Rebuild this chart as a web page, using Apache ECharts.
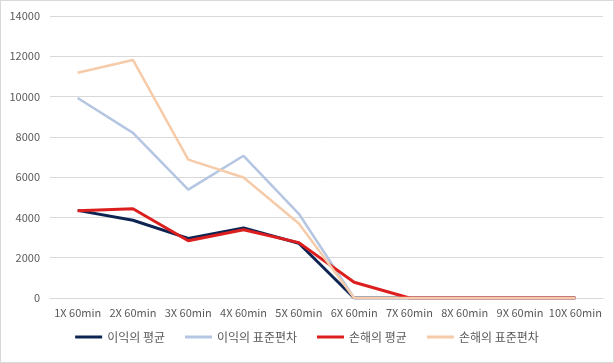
<!DOCTYPE html>
<html><head><meta charset="utf-8">
<script src="https://cdn.jsdelivr.net/npm/echarts@6/dist/echarts.min.js"></script>
<style>html,body{margin:0;padding:0;background:#fff}#c{width:614px;height:363px;box-sizing:border-box;border:1px solid #d9d9d9}</style>
</head><body><div id="c"></div>
<script>
const categories = ['1X 60min','2X 60min','3X 60min','4X 60min','5X 60min','6X 60min','7X 60min','8X 60min','9X 60min','10X 60min'];
const profitMean = [4350, 3860, 2960, 3480, 2720, 0, 0, 0, 0, 0];
const profitStd = [9930, 8200, 5380, 7060, 4180, 0, 0, 0, 0, 0];
const lossMean = [4330, 4430, 2840, 3390, 2750, 780, 0, 0, 0, 0];
const lossStd = [11180, 11820, 6870, 5980, 3700, 0, 0, 0, 0, 0];
const names = ['이익의 평균','이익의 표준편차','손해의 평균','손해의 표준편차'];
const colors = ['#0E2453','#B4C6E2','#DD1E1E','#F6CBAA'];
const widths = [3, 2.5, 3, 2.5];
const all = [profitMean, profitStd, lossMean, lossStd];
const chart = echarts.init(document.getElementById('c'));
const font = '"Noto Sans CJK KR", "Noto Sans", sans-serif';
chart.setOption({
  animation:false,
  grid:{left:49,right:10,top:15,bottom:64},
  legend:{bottom:14,left:'center',itemWidth:27,itemHeight:3,itemGap:20,
    icon:'rect',
    textStyle:{color:'#595959',fontSize:12,fontFamily:font},
    data:names},
  xAxis:{type:'category',data:categories,boundaryGap:true,
    axisLine:{lineStyle:{color:'#d9d9d9'}},axisTick:{show:false},
    axisLabel:{color:'#595959',fontSize:11,fontFamily:font,margin:9,interval:0}},
  yAxis:{type:'value',min:0,max:14000,interval:2000,
    axisLine:{show:false},axisTick:{show:false},
    splitLine:{lineStyle:{color:'#d9d9d9'}},
    axisLabel:{color:'#595959',fontSize:11,fontFamily:font,margin:10,formatter:v=>String(v)}},
  series: all.map((d,i)=>({name:names[i],type:'line',data:d,showSymbol:false,symbol:'none',
    z: 2+i,
    lineStyle:{color:colors[i],width:widths[i]},itemStyle:{color:colors[i]}}))
});
</script></body></html>
